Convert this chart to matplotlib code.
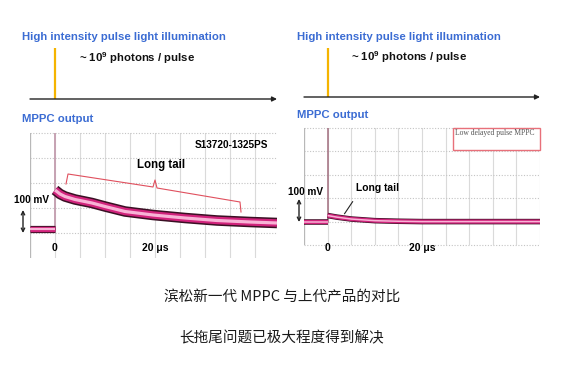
import matplotlib
matplotlib.use('Agg')
import numpy as np
import matplotlib.pyplot as plt
from matplotlib.patches import Rectangle

plt.rcParams['font.family'] = ['Liberation Sans', 'DejaVu Sans']
plt.rcParams['mathtext.fontset'] = 'custom'
plt.rcParams['mathtext.bf'] = 'Liberation Sans:bold'
plt.rcParams['mathtext.rm'] = 'Liberation Sans:bold'

# ---- data (time in us, band centre in mV above baseline)
pre_t = [-5, 0]
pre_mv = [0, 0]

old_t = [0, 1, 2, 4, 7.4, 10, 14, 19.6, 26, 32.4, 39, 44.4]
old_mv = [154, 138, 128, 116, 102, 88, 68, 54, 42, 32, 26, 22]

new_t = [0, 2, 5, 10, 15, 20, 45]
new_mv = [26, 19, 11, 4, 1.5, 0, 0]

spike_mv = 700          # the prompt spike runs off the top of the screen
pulse_t = 0

# bracket over the long tail (left shot)
brk_t = [2.2, 2.6, 19.6, 20.0, 20.4, 37.0, 37.2]
brk_mv = [178, 218, 166, 194, 162, 106, 66]

titles = ['High intensity pulse light illumination', r'~ 10$^{\mathbf{9}}$ photons / pulse', 'MPPC output']
captions = ['滨松新一代 MPPC 与上代产品的对比', '长拖尾问题已极大程度得到解决']

W, H = 577, 390
fig = plt.figure(figsize=(W / 100, H / 100), dpi=100)


def box(x0, y0, x1, y1):
    # pixel box (top-left origin) -> figure fraction
    return [x0 / W, 1 - y1 / H, (x1 - x0) / W, (y1 - y0) / H]


def ftext(x, y, s, **kw):
    kw.setdefault('va', 'center')
    fig.text(x / W, 1 - y / H, s, **kw)


BLUE = '#3b6cd3'
DARK = '#3a1024'
MAG = '#d1237c'
PINK = '#f8b3d6'


def band(ax, t, v, widths):
    for c, lw in zip([DARK, MAG, PINK], widths):
        ax.plot(t, v, color=c, lw=lw, solid_capstyle='butt', solid_joinstyle='round', zorder=3)


def scope(ax, xlim, ylim, vgrid, hgrid):
    ax.set_xlim(*xlim)
    ax.set_ylim(*ylim)
    ax.axis('off')
    for x in vgrid:
        ax.axvline(x, color='#dadada', lw=0.8, zorder=1)
    for y in hgrid:
        ax.axhline(y, color='#c4c4c4', lw=0.8, ls=(0, (1, 1.5)), zorder=1, clip_on=False)
    ax.axvline(xlim[0], color='#b8b8b8', lw=0.9, zorder=1)


def top_panel(rect, xlim):
    ax = fig.add_axes(rect)
    ax.set_xlim(*xlim)
    ax.set_ylim(0, 1)
    ax.axis('off')
    ax.vlines(pulse_t, 0, 1, color='#f5b400', lw=1.6)
    ax.annotate('', xy=(xlim[1], 0), xytext=(xlim[0], 0),
                arrowprops=dict(arrowstyle='-|>', color='#222222', lw=1.0,
                                mutation_scale=7, shrinkA=0, shrinkB=0),
                annotation_clip=False)
    return ax


def vmark(x, y0, y1):
    fig.add_artist(matplotlib.patches.FancyArrowPatch(
        (x / W, 1 - y0 / H), (x / W, 1 - y1 / H), transform=fig.transFigure,
        arrowstyle='<->', mutation_scale=6, lw=1.0, color='#222222', shrinkA=0, shrinkB=0))


# ---------------- left shot ----------------
top_panel(box(30, 48, 277, 99), (-5, 44.4))
ftext(22, 37, titles[0], color=BLUE, fontsize=8.2, fontweight='bold')
ftext(79, 58, titles[1], color='#111111', fontsize=8.2, fontweight='bold')
ftext(22, 119, titles[2], color=BLUE, fontsize=8.2, fontweight='bold')

axl = fig.add_axes(box(30, 133, 277, 258))
scope(axl, (-5, 44.4), (-118, 382), np.arange(-5, 44, 5), [-18, 82, 182, 282, 382])
axl.plot([pulse_t, pulse_t], [0, spike_mv], color='#c6a2b2', lw=1.4, zorder=2)
band(axl, pre_t, pre_mv, [5.2, 3.8, 1.6])
band(axl, old_t, old_mv, [7.6, 5.4, 2.3])
axl.plot(brk_t, brk_mv, color='#e0505e', lw=0.8, zorder=4)
axl.text(35.2, 334, 'S13720-1325PS', fontsize=7.2, fontweight='bold', ha='center', va='center')
axl.text(21.2, 254, 'Long tail', fontsize=8.3, fontweight='bold', ha='center', va='center')
tr = axl.get_xaxis_transform()
axl.text(0, 0.08, '0', transform=tr, fontsize=7.5, fontweight='bold', ha='center', va='center')
axl.text(20, 0.08, '20 μs', transform=tr, fontsize=7.5, fontweight='bold', ha='center', va='center')
ftext(32, 200, '100 mV', fontsize=7.2, fontweight='bold', ha='center')
vmark(23, 210, 233)

# ---------------- right shot ----------------
top_panel(box(304, 48, 540, 97), (-5, 45))
ftext(297, 37, titles[0], color=BLUE, fontsize=8.2, fontweight='bold')
ftext(351, 57, titles[1], color='#111111', fontsize=8.2, fontweight='bold')
ftext(297, 115, titles[2], color=BLUE, fontsize=8.2, fontweight='bold')

axr = fig.add_axes(box(304, 128, 540, 245))
scope(axr, (-5, 45), (-100, 400), np.arange(-5, 46, 5), np.arange(-100, 401, 100))
axr.plot([pulse_t, pulse_t], [0, spike_mv], color='#a87888', lw=1.2, zorder=2)
band(axr, pre_t, pre_mv, [4.0, 3.0, 1.1])
band(axr, new_t, new_mv, [4.0, 3.0, 1.1])
axr.add_patch(Rectangle((26.6, 307), 18.4, 93, facecolor='white', edgecolor='#e8707a',
                        lw=1.0, zorder=5, clip_on=False))
axr.text(27.0, 394, 'Low delayed pulse MPPC', family='Liberation Serif', fontsize=5.5,
         color='#555555', ha='left', va='top', zorder=6)
axr.plot([5.3, 3.6], [85, 34], color='#222222', lw=0.8, zorder=4)
axr.text(10.6, 145, 'Long tail', fontsize=7.4, fontweight='bold', ha='center', va='center')
tr = axr.get_xaxis_transform()
axr.text(0, -0.026, '0', transform=tr, fontsize=7.5, fontweight='bold', ha='center', va='center')
axr.text(20, -0.026, '20 μs', transform=tr, fontsize=7.5, fontweight='bold', ha='center', va='center')
ftext(306, 192, '100 mV', fontsize=7.2, fontweight='bold', ha='center')
vmark(299, 199, 222)

# ---------------- captions ----------------
cjk = ['Noto Sans CJK SC', 'DejaVu Sans']
ftext(282, 297, captions[0], family=cjk, fontsize=10.5, ha='center', color='#1a1a1a')
ftext(282, 338, captions[1], family=cjk, fontsize=10.5, ha='center', color='#1a1a1a')

fig.savefig('out.png', dpi=100, facecolor='white')
